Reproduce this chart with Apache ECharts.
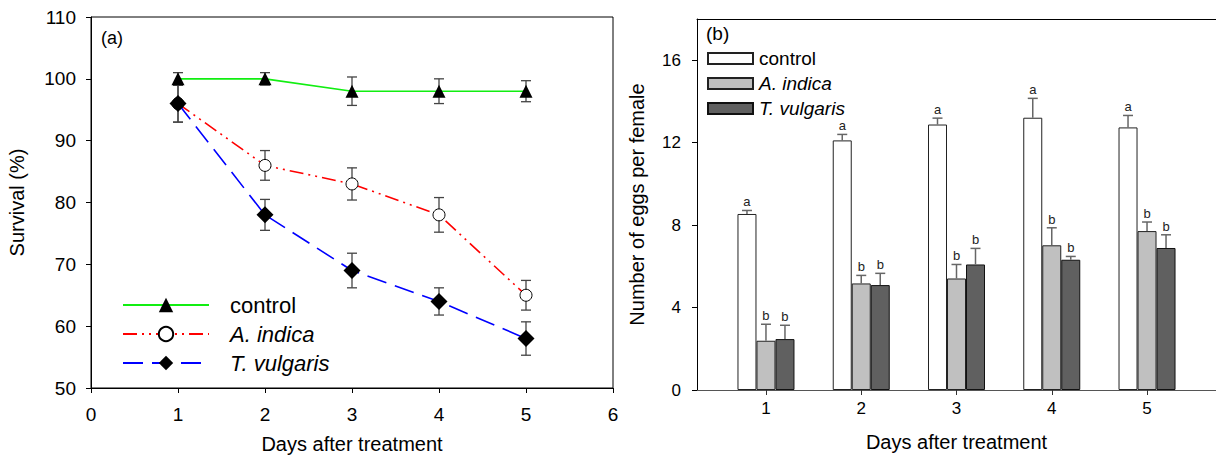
<!DOCTYPE html>
<html><head><meta charset="utf-8">
<script src="https://cdn.jsdelivr.net/npm/echarts@6/dist/echarts.min.js"></script>
<style>html,body{margin:0;padding:0;background:#fff}#c{width:1216px;height:459px}</style>
</head><body><div id="c"></div>
<script>
// ---- data (panel a) ----
const days = [1, 2, 3, 4, 5];
const survControl = [100, 100, 98, 98, 98];
const errControl = [1.0, 1.0, 2.3, 2.0, 1.7];
const survIndica = [96, 86, 83, 78, 65];
const errIndica = [3.0, 2.4, 2.6, 2.8, 2.4];
const survVulgaris = [96, 78, 69, 64, 58];
const errVulgaris = [3.0, 2.5, 2.8, 2.2, 2.7];

// ---- data (panel b) ----
const eggsControl = [8.54, 12.11, 12.88, 13.21, 12.74];
const seControl = [0.17, 0.29, 0.31, 0.94, 0.58];
const eggsIndica = [2.39, 5.17, 5.41, 7.02, 7.71];
const seIndica = [0.80, 0.39, 0.68, 0.85, 0.44];
const eggsVulgaris = [2.47, 5.09, 6.09, 6.32, 6.89];
const seVulgaris = [0.67, 0.57, 0.78, 0.16, 0.64];
const lettersControl = ['a', 'a', 'a', 'a', 'a'];
const lettersIndica = ['b', 'b', 'b', 'b', 'b'];
const lettersVulgaris = ['b', 'b', 'b', 'b', 'b'];
const eggTicksY = [0, 4, 8, 12, 16];

const FONT = '"Liberation Sans", Arial, sans-serif';
const BAR_W = 19;
const chart = echarts.init(document.getElementById('c'), null, {renderer: 'svg'});

function leftErr(vals, errs) {
  return {
    type: 'custom', xAxisIndex: 0, yAxisIndex: 0, z: 1, silent: true,
    itemStyle: {color: '#444'},
    data: days.map((d, i) => [d, vals[i], errs[i]]),
    renderItem: function (params, api) {
      const x = api.value(0), y = api.value(1), e = api.value(2);
      const t = api.coord([x, y + e]), b = api.coord([x, y - e]);
      const hw = 5, st = {stroke: '#444', lineWidth: 1.3};
      return {type: 'group', children: [
        {type: 'line', shape: {x1: t[0], y1: t[1], x2: b[0], y2: b[1]}, style: st},
        {type: 'line', shape: {x1: t[0] - hw, y1: t[1], x2: t[0] + hw, y2: t[1]}, style: st},
        {type: 'line', shape: {x1: b[0] - hw, y1: b[1], x2: b[0] + hw, y2: b[1]}, style: st}
      ]};
    }
  };
}

function rightErr(vals, errs, letters, k) {
  return {
    type: 'custom', xAxisIndex: 1, yAxisIndex: 1, z: 5, silent: true,
    itemStyle: {color: '#222'},
    data: days.map((d, i) => [d, vals[i], errs[i]]),
    renderItem: function (params, api) {
      const x = api.value(0), y = api.value(1), e = api.value(2);
      const b = api.coord([x, y]), t = api.coord([x, y + e]);
      const cx = b[0] + k * BAR_W, hw = 5, st = {stroke: '#666', lineWidth: 1.5};
      return {type: 'group', children: [
        {type: 'line', shape: {x1: cx, y1: b[1], x2: cx, y2: t[1]}, style: st},
        {type: 'line', shape: {x1: cx - hw, y1: t[1], x2: cx + hw, y2: t[1]}, style: st},
        {type: 'text', x: cx, y: t[1] - 2, style: {text: letters[params.dataIndex], fill: '#222',
          fontSize: 13, fontFamily: FONT, align: 'center', verticalAlign: 'bottom'}}
      ]};
    }
  };
}

const legendRich = (size, pad, lh) => ({
  n: {fontSize: size, fontFamily: FONT, color: '#000', lineHeight: lh, padding: [0, 0, 0, pad]},
  i: {fontSize: size, fontFamily: FONT, color: '#000', lineHeight: lh, fontStyle: 'italic', padding: [0, 0, 0, pad]}
});
const fmtLegend = (name) => {
  const n = name.replace(' (b)', '');
  return n === 'control' ? '{n|' + n + '}' : '{i|' + n + '}';
};

const axisLbl = (size, margin) => ({fontSize: size, fontFamily: FONT, color: '#000', margin: margin});
const nameStyle = {fontSize: 20, fontFamily: FONT, color: '#000'};

const option = {
  animation: false,
  backgroundColor: '#fff',
  grid: [
    {left: 91, top: 17, width: 522, height: 372, show: true, borderColor: '#000', borderWidth: 1},
    {left: 697, top: 19, width: 519, height: 371}
  ],
  xAxis: [
    {gridIndex: 0, type: 'value', min: 0, max: 6, interval: 1,
     axisLine: {lineStyle: {color: '#000'}}, axisTick: {length: 5, lineStyle: {color: '#000'}},
     axisLabel: axisLbl(19, 17), splitLine: {show: false},
     name: 'Days after treatment', nameLocation: 'middle', nameGap: 46, nameTextStyle: nameStyle},
    {gridIndex: 1, type: 'value', min: 0.276, max: 5.724,
     axisLine: {lineStyle: {color: '#555'}},
     axisTick: {length: 5, lineStyle: {color: '#333'}, customValues: days},
     axisLabel: Object.assign(axisLbl(17, 10), {customValues: days}), splitLine: {show: false},
     name: 'Days after treatment', nameLocation: 'middle', nameGap: 42, nameTextStyle: nameStyle},
    {gridIndex: 1, type: 'value', position: 'top', min: 0.276, max: 5.724,
     axisLine: {lineStyle: {color: '#000'}}, axisTick: {show: false}, axisLabel: {show: false},
     splitLine: {show: false}}
  ],
  yAxis: [
    {gridIndex: 0, type: 'value', min: 50, max: 110, interval: 10,
     axisLine: {show: true, lineStyle: {color: '#000'}}, axisTick: {show: true, length: 5, lineStyle: {color: '#000'}},
     axisLabel: axisLbl(19, 15), splitLine: {show: false},
     name: 'Survival (%)', nameLocation: 'middle', nameGap: 64, nameTextStyle: nameStyle},
    {gridIndex: 1, type: 'value', min: 0, max: 18,
     axisLine: {show: true, lineStyle: {color: '#000'}},
     axisTick: {show: true, length: 5, lineStyle: {color: '#000'}, customValues: eggTicksY},
     axisLabel: Object.assign(axisLbl(17, 16), {customValues: eggTicksY}), splitLine: {show: false},
     name: 'Number of eggs per female', nameLocation: 'middle', nameGap: 50, nameTextStyle: nameStyle}
  ],
  legend: [
    {data: ['control', 'A. indica', 'T. vulgaris'], orient: 'vertical', left: 117, top: 289,
     itemWidth: 86, itemHeight: 18, itemGap: 7, selectedMode: false,
     formatter: fmtLegend, textStyle: {fontSize: 22, fontFamily: FONT, rich: legendRich(22, 16, 22)}},
    {data: ['control (b)', 'A. indica (b)', 'T. vulgaris (b)'], orient: 'vertical', left: 702, top: 44,
     itemWidth: 45, itemHeight: 11, itemGap: 6, icon: 'rect', selectedMode: false,
     formatter: fmtLegend, textStyle: {fontSize: 19, fontFamily: FONT, rich: legendRich(19, 1, 18)}}
  ],
  graphic: [
    {type: 'text', left: 101, top: 29, style: {text: '(a)', fontSize: 18, fontFamily: FONT, fill: '#000'}},
    {type: 'text', left: 706, top: 24, style: {text: '(b)', fontSize: 19, fontFamily: FONT, fill: '#000'}}
  ],
  series: [
    leftErr(survControl, errControl),
    leftErr(survIndica, errIndica),
    leftErr(survVulgaris, errVulgaris),
    {name: 'control', type: 'line', xAxisIndex: 0, yAxisIndex: 0, z: 3,
     data: days.map((d, i) => [d, survControl[i]]),
     symbol: 'triangle', symbolSize: 13, itemStyle: {color: '#000'},
     lineStyle: {color: '#11ee11', width: 1.6, type: 'solid'}},
    {name: 'A. indica', type: 'line', xAxisIndex: 0, yAxisIndex: 0, z: 3,
     data: days.map((d, i) => [d, survIndica[i]]),
     symbol: 'circle', symbolSize: 12, itemStyle: {color: '#fff', borderColor: '#000', borderWidth: 1},
     lineStyle: {color: '#ff0000', width: 1.6, type: [14, 5, 2, 5, 2, 5]}},
    {name: 'T. vulgaris', type: 'line', xAxisIndex: 0, yAxisIndex: 0, z: 4,
     data: days.map((d, i) => [d, survVulgaris[i]]),
     symbol: 'diamond', symbolSize: 17, itemStyle: {color: '#000'},
     lineStyle: {color: '#0000ff', width: 1.6, type: [20, 9]}},
    {name: 'control (b)', type: 'bar', xAxisIndex: 1, yAxisIndex: 1, barWidth: BAR_W, barGap: '0%',
     data: days.map((d, i) => [d, eggsControl[i]]),
     itemStyle: {color: '#ffffff', borderColor: '#222', borderWidth: 1}},
    {name: 'A. indica (b)', type: 'bar', xAxisIndex: 1, yAxisIndex: 1, barWidth: BAR_W, barGap: '0%',
     data: days.map((d, i) => [d, eggsIndica[i]]),
     itemStyle: {color: '#c0c0c0', borderColor: '#222', borderWidth: 1}},
    {name: 'T. vulgaris (b)', type: 'bar', xAxisIndex: 1, yAxisIndex: 1, barWidth: BAR_W, barGap: '0%',
     data: days.map((d, i) => [d, eggsVulgaris[i]]),
     itemStyle: {color: '#606060', borderColor: '#111', borderWidth: 1}},
    rightErr(eggsControl, seControl, lettersControl, -1),
    rightErr(eggsIndica, seIndica, lettersIndica, 0),
    rightErr(eggsVulgaris, seVulgaris, lettersVulgaris, 1)
  ]
};
chart.setOption(option);
</script>
</body></html>
